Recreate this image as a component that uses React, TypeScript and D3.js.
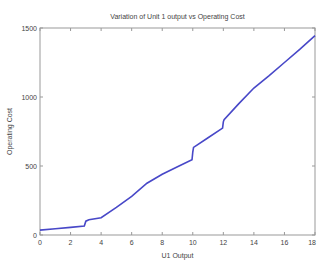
import React from "react";
import * as d3 from "d3";

const xVals = [0, 1, 2, 2.9, 3, 3.2, 4, 5, 6, 7, 8, 9, 9.95, 10, 10.05, 11, 11.95, 12, 12.05, 13, 14, 15, 16, 17, 18];
const yVals = [35, 45, 55, 65, 100, 110, 125, 200, 280, 375, 440, 495, 545, 600, 635, 705, 775, 820, 835, 950, 1065, 1155, 1250, 1345, 1445];
const xTicks = [0, 2, 4, 6, 8, 10, 12, 14, 16, 18];
const yTicks = [0, 500, 1000, 1500];

const W = 317, H = 263;
const L = 40, R = 315, T = 28, B = 235;

export default function App() {
  const x = d3.scaleLinear().domain([0, 18]).range([L, R]);
  const y = d3.scaleLinear().domain([0, 1500]).range([B, T]);
  const pts: [number, number][] = xVals.map((v, i) => [v, yVals[i]]);
  const line = d3.line<[number, number]>().x(d => x(d[0])).y(d => y(d[1]));
  const font = "Liberation Sans, Arial, sans-serif";
  const tc = "#444";
  return (
    <svg width={W} height={H} style={{ position: "absolute", left: 0, top: 0, background: "#fff" }}>
      <rect x={L} y={T} width={R - L} height={B - T} fill="#fff" stroke="#999" strokeWidth={1} />
      {xTicks.map((t, i) => {
        const last = i === xTicks.length - 1;
        return (
          <g key={"x" + t}>
            <line x1={x(t)} x2={x(t)} y1={B} y2={B - 3} stroke="#999" />
            <line x1={x(t)} x2={x(t)} y1={T} y2={T + 3} stroke="#999" />
            <text x={last ? W - 1 : x(t)} y={B + 10} fontSize={7} fontFamily={font} fill={tc} textAnchor={last ? "end" : "middle"}>{t}</text>
          </g>
        );
      })}
      {yTicks.map(t => (
        <g key={"y" + t}>
          <line x1={L} x2={L + 3} y1={y(t)} y2={y(t)} stroke="#999" />
          <line x1={R} x2={R - 3} y1={y(t)} y2={y(t)} stroke="#999" />
          <text x={L - 3} y={y(t) + 2.5} fontSize={7} fontFamily={font} fill={tc} textAnchor="end">{t}</text>
        </g>
      ))}
      <path d={line(pts) || ""} fill="none" stroke="#4848c8" strokeWidth={1.6} />
      <text x={(L + R) / 2} y={19} fontSize={7} fontFamily={font} fill={tc} textAnchor="middle">Variation of Unit 1 output vs Operating Cost</text>
      <text x={(L + R) / 2} y={258} fontSize={7} fontFamily={font} fill={tc} textAnchor="middle">U1 Output</text>
      <text transform={`translate(12,${(T + B) / 2}) rotate(-90)`} fontSize={7} fontFamily={font} fill={tc} textAnchor="middle">Operating Cost</text>
    </svg>
  );
}
